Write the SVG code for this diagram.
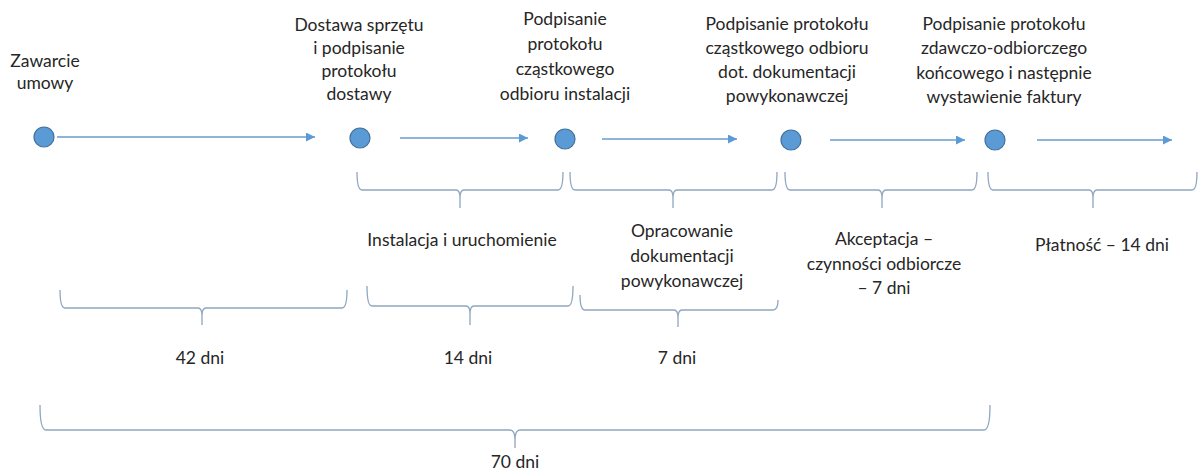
<svg xmlns="http://www.w3.org/2000/svg" width="1200" height="471" viewBox="0 0 1200 471">
<defs>
<style>
text{font-family:Lato,"Liberation Sans",sans-serif;font-size:17.5px;fill:#262626;text-anchor:middle}
.dot{fill:#5b9bd5;stroke:#41719c;stroke-width:1.2}
.arr{stroke:#6a9bcf;stroke-width:1.5;fill:none}
.brace{stroke:#8ea6bf;stroke-width:1.3;fill:none}
</style>
<marker id="ah" viewBox="0 0 10 10" refX="10" refY="5" markerWidth="11" markerHeight="9" markerUnits="userSpaceOnUse" orient="auto"><path d="M0,0 L10,5 L0,10 z" fill="#5b9bd5"/></marker>
</defs>
<rect width="1200" height="471" fill="#fff"/>
<g id="connectors">
<line class="arr" x1="57" y1="137" x2="315" y2="137" marker-end="url(#ah)"/>
<line class="arr" x1="400" y1="138" x2="528" y2="138" marker-end="url(#ah)"/>
<line class="arr" x1="602" y1="139" x2="737" y2="139" marker-end="url(#ah)"/>
<line class="arr" x1="830" y1="140" x2="965" y2="140" marker-end="url(#ah)"/>
<line class="arr" x1="1037" y1="140" x2="1172" y2="140" marker-end="url(#ah)"/>
</g>
<g id="n1"><circle class="dot" cx="44" cy="137" r="10"/><text x="45" y="67">Zawarcie</text><text x="45" y="89">umowy</text></g>
<g id="n2"><circle class="dot" cx="360" cy="138" r="10"/><text x="359" y="31">Dostawa sprzętu</text><text x="359" y="54">i podpisanie</text><text x="359" y="77">protokołu</text><text x="359" y="100">dostawy</text></g>
<g id="n3"><circle class="dot" cx="565" cy="139" r="10"/><text x="565" y="25">Podpisanie</text><text x="565" y="50">protokołu</text><text x="565" y="75">cząstkowego</text><text x="565" y="100">odbioru instalacji</text></g>
<g id="n4"><circle class="dot" cx="791" cy="140" r="10"/><text x="787" y="30">Podpisanie protokołu</text><text x="787" y="54">cząstkowego odbioru</text><text x="787" y="78">dot. dokumentacji</text><text x="787" y="102">powykonawczej</text></g>
<g id="n5"><circle class="dot" cx="995" cy="140" r="10"/><text x="1004" y="30">Podpisanie protokołu</text><text x="1004" y="54">zdawczo-odbiorczego</text><text x="1004" y="79">końcowego i następnie</text><text x="1004" y="103">wystawienie faktury</text></g>
<g id="braces-top">
<path class="brace" d="M357,172 Q357,190 362,190 L456,190 Q460,190 460,198 L460,208 M460,198 Q460,190 464,190 L558,190 Q563,190 563,172"/>
<path class="brace" d="M570,172 Q570,190 575,190 L669,190 Q673,190 673,198 L673,208 M673,198 Q673,190 677,190 L772,190 Q777,190 777,172"/>
<path class="brace" d="M785,172 Q785,190 790,190 L878,190 Q882,190 882,198 L882,208 M882,198 Q882,190 886,190 L972,190 Q977,190 977,172"/>
<path class="brace" d="M988,172 Q988,190 993,190 L1089,190 Q1093,190 1093,198 L1093,208 M1093,198 Q1093,190 1097,190 L1192,190 Q1197,190 1197,172"/>
</g>
<g id="labels-mid">
<text x="462" y="246">Instalacja i uruchomienie</text>
<text x="682" y="237">Opracowanie</text><text x="682" y="262">dokumentacji</text><text x="682" y="287">powykonawczej</text>
<text x="884" y="245">Akceptacja –</text><text x="884" y="270">czynności odbiorcze</text><text x="884" y="294">– 7 dni</text>
<text x="1102" y="251">Płatność – 14 dni</text>
</g>
<g id="braces-bottom">
<path class="brace" d="M60,290 Q60,308 65,308 L198,308 Q202,308 202,316 L202,325 M202,316 Q202,308 206,308 L342,308 Q347,308 347,290"/>
<path class="brace" d="M367,286 Q367,306 372,306 L466,306 Q470,306 470,314 L470,325 M470,314 Q470,306 474,306 L568,306 Q573,306 573,286"/>
<path class="brace" d="M580,295 Q580,310 585,310 L674,310 Q678,310 678,318 L678,327 M678,318 Q678,310 682,310 L773,310 Q778,310 778,300"/>
<path class="brace" d="M40,405 Q40,430 46,430 L510,430 Q515,430 515,440 L515,448 M515,440 Q515,430 520,430 L984,430 Q990,430 990,405"/>
</g>
<g id="labels-bottom">
<text x="200" y="364">42 dni</text>
<text x="468" y="364">14 dni</text>
<text x="677" y="364">7 dni</text>
<text x="515" y="468">70 dni</text>
</g>
</svg>
